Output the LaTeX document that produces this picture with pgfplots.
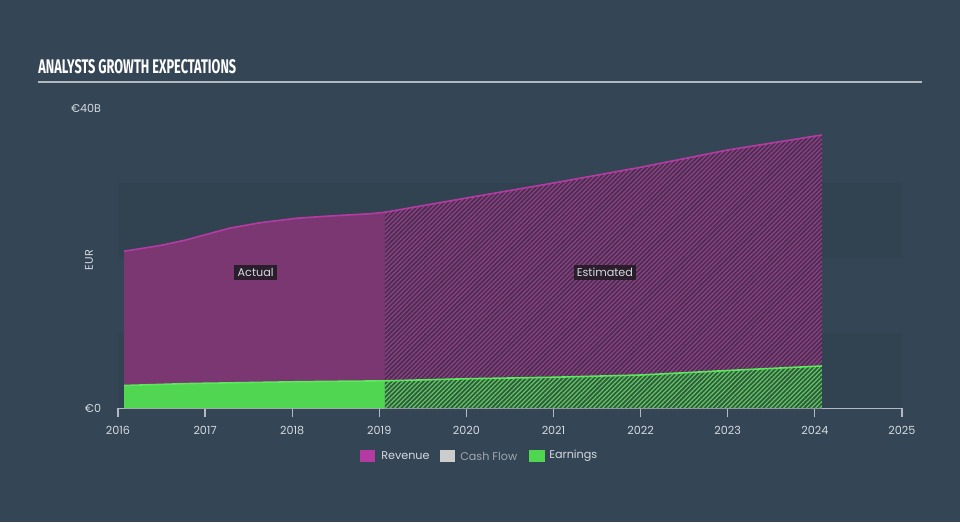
\documentclass[border=0pt]{standalone}
\usepackage{pgfplots}
\pgfplotsset{compat=1.18}
\usepackage{pgfplotstable}
\usepackage{fontspec}
\setmainfont{Poppins}
\newfontfamily\titlefont{Fira Sans}
\usetikzlibrary{patterns.meta}
\definecolor{bg}{HTML}{344555}
\definecolor{band}{HTML}{314250}
\definecolor{revfill}{HTML}{7A3772}
\definecolor{revline}{HTML}{B53BA3}
\definecolor{revbase}{HTML}{4A3050}
\definecolor{revstripe}{HTML}{93408A}
\definecolor{earnfill}{HTML}{50D651}
\definecolor{earnline}{HTML}{5CE85C}
\definecolor{earnbase}{HTML}{2F5A3E}
\definecolor{earnstripe}{HTML}{62C862}
\definecolor{txt}{HTML}{D5D9DE}
\definecolor{txtdim}{HTML}{A0A8B0}
\definecolor{cfsq}{HTML}{CCCCCC}
\definecolor{axisc}{HTML}{B2B9C1}
\definecolor{lbl}{HTML}{2A1E2C}

\pgfplotstableread{
x rev earn
2016.07 20.9 3.0
2016.50 21.7 3.15
2016.78 22.4 3.25
2017.00 23.1 3.3
2017.29 24.0 3.35
2017.63 24.7 3.42
2018.05 25.3 3.5
2018.43 25.6 3.55
2018.89 25.9 3.6
2019.065 26.1 3.62
}\actual
\pgfplotstableread{
x rev earn
2019.065 26.1 3.62
2020.00 28.0 3.9
2021.00 30.0 4.1
2022.00 32.1 4.4
2023.00 34.4 5.0
2024.08 36.4 5.6
}\estim

\begin{document}
\begin{tikzpicture}
\begin{scope}[x=0.75pt,y=0.75pt]
\fill[bg] (0,0) rectangle (960,522);
\node[anchor=base west, inner sep=0pt, text=white] at (38,448)
  {\resizebox{148.5pt}{10.5pt}{\titlefont\bfseries ANALYSTS GROWTH EXPECTATIONS}};
\draw[color=axisc, line width=1.5pt] (38,440) -- (922,440);
\end{scope}
\begin{axis}[
  at={(88.5pt,85.5pt)}, anchor=south west,
  scale only axis, width=588pt, height=225pt,
  xmin=2016, xmax=2025, ymin=0, ymax=40,
  axis x line*=bottom, axis y line*=left,
  x axis line style={color=axisc, line width=0.9pt, -},
  y axis line style={draw=none},
  xtick={2016,...,2025},
  xticklabels={2016,2017,2018,2019,2020,2021,2022,2023,2024,2025},
  xtick style={color=axisc, line width=0.9pt},
  major tick length=7pt,
  tick align=outside,
  xticklabel style={anchor=center, yshift=-9.75pt, inner sep=0pt},
  ytick={0,40}, yticklabels={€0,€40B},
  ytick style={draw=none},
  yticklabel style={anchor=east, inner sep=0pt, xshift=-5.5pt},
  ticklabel style={font=\fontsize{8.4}{10}\selectfont, text=txt},
  /pgf/number format/assume math mode=true,
  ylabel={EUR},
  ylabel style={at={(axis description cs:-0.037,0.493)}, anchor=center, font=\fontsize{8.4}{10}\selectfont, text=txt},
  clip=false,
]
\fill[band] (axis cs:2016,0) rectangle (axis cs:2025,10);
\fill[band] (axis cs:2016,20) rectangle (axis cs:2025,30);
\addplot[draw=none, fill=revfill] table[x=x,y=rev]{\actual} \closedcycle;
\addplot[draw=none, fill=revbase] table[x=x,y=rev]{\estim} \closedcycle;
\addplot[draw=none, pattern={Lines[angle=45,distance=2.4pt,line width=0.9pt]}, pattern color=revstripe] table[x=x,y=rev]{\estim} \closedcycle;
\addplot[revline, line width=1.2pt] table[x=x,y=rev]{\actual};
\addplot[revline, line width=1.2pt] table[x=x,y=rev]{\estim};
\addplot[draw=none, fill=earnfill] table[x=x,y=earn]{\actual} \closedcycle;
\addplot[draw=none, fill=earnbase] table[x=x,y=earn]{\estim} \closedcycle;
\addplot[draw=none, pattern={Lines[angle=45,distance=2.4pt,line width=0.9pt]}, pattern color=earnstripe] table[x=x,y=earn]{\estim} \closedcycle;
\addplot[earnline, line width=1.2pt] table[x=x,y=earn]{\actual};
\addplot[earnline, line width=1.2pt] table[x=x,y=earn]{\estim};
\node[fill=lbl, text=txt, font=\fontsize{8.4}{10}\selectfont, inner sep=2.5pt] at (axis cs:2017.58,18.07) {Actual};
\node[fill=lbl, text=txt, font=\fontsize{8.4}{10}\selectfont, inner sep=2.5pt] at (axis cs:2021.59,18.07) {Estimated};
\end{axis}
\begin{scope}[x=0.75pt,y=0.75pt]
\fill[revline] (360,60.3) rectangle (375,72);
\node[anchor=west, inner sep=0pt, text=txt, font=\fontsize{8.4}{10}\selectfont] at (381,66) {Revenue};
\fill[cfsq] (440,60.3) rectangle (455,72);
\node[anchor=west, inner sep=0pt, text=txtdim, font=\fontsize{8.4}{10}\selectfont] at (460,66) {Cash Flow};
\fill[earnfill] (529,60.3) rectangle (545,72);
\node[anchor=west, inner sep=0pt, text=txt, font=\fontsize{8.4}{10}\selectfont] at (549,66) {Earnings};
\end{scope}
\pgfresetboundingbox
\useasboundingbox (0,0) rectangle (720pt,391.5pt);
\end{tikzpicture}
\end{document}
